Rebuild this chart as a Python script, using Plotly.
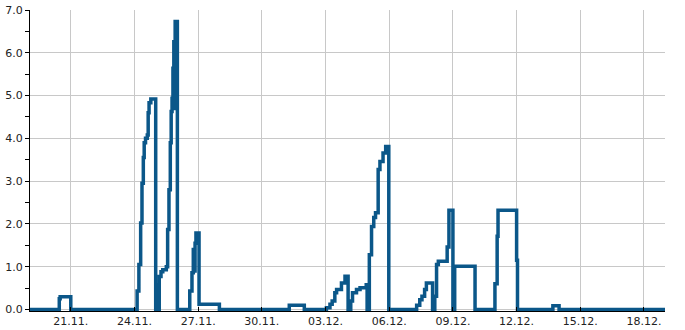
import plotly.graph_objects as go

# change points of the step series (value holds until next time)
times = [
    "2024-11-19 01:00", "2024-11-20 11:00", "2024-11-20 12:00", "2024-11-21 00:00",
    "2024-11-24 03:00", "2024-11-24 05:00", "2024-11-24 07:00", "2024-11-24 08:30",
    "2024-11-24 10:00", "2024-11-24 11:00", "2024-11-24 12:30", "2024-11-24 14:30",
    "2024-11-24 15:30", "2024-11-24 16:30", "2024-11-24 18:30", "2024-11-25 00:00",
    "2024-11-25 02:00", "2024-11-25 03:00", "2024-11-25 04:00", "2024-11-25 06:00",
    "2024-11-25 08:00", "2024-11-25 12:00", "2024-11-25 13:30", "2024-11-25 15:00",
    "2024-11-25 16:30", "2024-11-25 17:30", "2024-11-25 18:30", "2024-11-25 19:30",
    "2024-11-25 20:30", "2024-11-25 21:00", "2024-11-25 22:00", "2024-11-25 23:00",
    "2024-11-25 23:30", "2024-11-26 00:30",
    "2024-11-26 14:30", "2024-11-26 17:00", "2024-11-26 18:30", "2024-11-26 19:30",
    "2024-11-26 20:30", "2024-11-26 21:30", "2024-11-27 01:00", "2024-11-28 00:00",
    "2024-12-01 07:00", "2024-12-02 00:00",
    "2024-12-03 01:00", "2024-12-03 05:00", "2024-12-03 07:30", "2024-12-03 10:30",
    "2024-12-03 12:30", "2024-12-03 18:00", "2024-12-03 22:00", "2024-12-04 01:30",
    "2024-12-04 04:30", "2024-12-04 06:30", "2024-12-04 11:00", "2024-12-04 15:00",
    "2024-12-04 22:00", "2024-12-04 23:00",
    "2024-12-05 01:30", "2024-12-05 04:00", "2024-12-05 06:30", "2024-12-05 08:30",
    "2024-12-05 11:30", "2024-12-05 13:30", "2024-12-05 17:00", "2024-12-05 20:00",
    "2024-12-05 23:30",
    "2024-12-07 07:00", "2024-12-07 10:30", "2024-12-07 13:00", "2024-12-07 16:00",
    "2024-12-07 18:00", "2024-12-08 01:00", "2024-12-08 03:30", "2024-12-08 05:30",
    "2024-12-08 07:30", "2024-12-08 17:30", "2024-12-08 19:30", "2024-12-09 00:00",
    "2024-12-09 02:00", "2024-12-10 01:00",
    "2024-12-10 23:30", "2024-12-11 02:00", "2024-12-11 03:00", "2024-12-12 00:00",
    "2024-12-12 01:00", "2024-12-13 17:00", "2024-12-14 00:00", "2024-12-19 01:00",
]
values = [
    0, 0.25, 0.30, 0,
    0.43, 1.05, 2.02, 2.95,
    3.55, 3.90, 4.00, 4.08,
    4.60, 4.83, 4.92, 0,
    0.57, 0, 0.77, 0.88,
    0.93, 1.00, 1.87, 2.80,
    3.90, 4.63, 4.94, 5.64,
    6.26, 4.70, 6.73, 4.70,
    6.73, 0,
    0.43, 0.86, 1.40, 0.90,
    1.55, 1.79, 0.12, 0,
    0.10, 0,
    0.04, 0.12, 0.20, 0.39,
    0.47, 0.62, 0.78, 0,
    0.20, 0.39, 0.47, 0.51,
    0.58, 0,
    1.28, 1.94, 2.15, 2.26,
    3.27, 3.46, 3.66, 3.81,
    0,
    0.10, 0.23, 0.31, 0.47,
    0.62, 0, 0.31, 1.05,
    1.13, 1.46, 2.32, 0,
    1.01, 0,
    0.60, 1.71, 2.32, 1.15,
    0, 0.09, 0, 0,
]

x_range = ["2024-11-19 01:54", "2024-12-18 23:45"]
y_range = [-0.035, 7.0]
x_tick0 = "2024-11-21"
x_dtick_days = 3

LINE_COLOR = "#0b5789"
GRID = "#c8c8c8"
FONT = dict(family="DejaVu Sans", size=11, color="#222222")

fig = go.Figure()
fig.add_trace(go.Scatter(
    x=times, y=values, mode="lines",
    line=dict(color=LINE_COLOR, width=3.5, shape="hv"),
    hoverinfo="skip", showlegend=False,
))

fig.update_layout(
    width=685, height=330,
    margin=dict(l=30, r=20, t=10, b=19),
    paper_bgcolor="white", plot_bgcolor="white",
    font=FONT,
    showlegend=False,
)
fig.update_xaxes(
    type="date", range=x_range, automargin=False,
    tick0=x_tick0, dtick=x_dtick_days * 86400000, tickformat="%d.%m.",
    showgrid=True, gridcolor=GRID, gridwidth=1,
    showline=True, linecolor="black", linewidth=1,
    ticks="inside", ticklen=4, tickcolor="black",
    zeroline=False, tickfont=FONT,
)
fig.update_yaxes(
    range=y_range, dtick=1, tick0=0, tickformat=".1f", automargin=False,
    showgrid=True, gridcolor=GRID, gridwidth=1,
    showline=True, linecolor="black", linewidth=1,
    ticks="outside", ticklen=4, tickcolor="black",
    minor=dict(dtick=0.5, ticks="outside", ticklen=4, tickcolor="black", showgrid=False),
    zeroline=False, tickfont=FONT,
)

fig.write_html("out.html")
